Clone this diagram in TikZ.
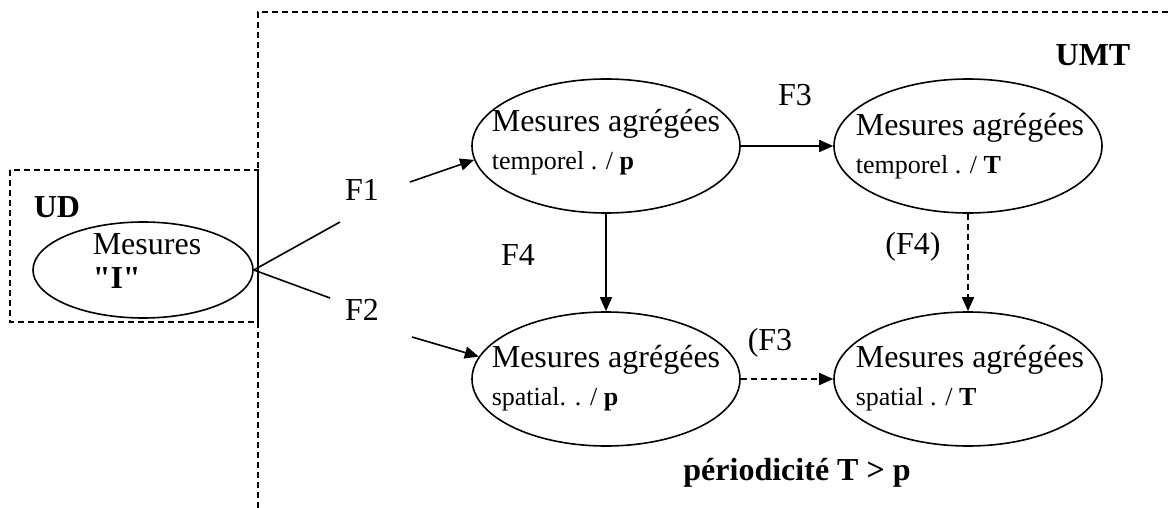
\documentclass[tikz,border=0pt]{standalone}
\usepackage{fontspec}
\setmainfont{Liberation Serif}
\usetikzlibrary{shapes.geometric,arrows.meta}

\tikzset{
  zone/.style={line width=0.8pt, dash pattern=on 3pt off 2pt},
  mesure/.style={draw, ellipse, line width=0.8pt, minimum width=134pt, minimum height=67pt, inner sep=0pt},
  txt/.style={font=\fontsize{16}{19}\selectfont, align=left, inner sep=0pt},
  fleche/.style={line width=0.8pt, -{Triangle[length=7pt,width=6pt]}},
  pointille/.style={fleche, dash pattern=on 3pt off 2pt},
}

\begin{document}
\begin{tikzpicture}[x=0.5pt,y=-0.5pt]
    \useasboundingbox (0,0) rectangle (1168,508);

    % Zones UD and UMT
    \draw[zone] (1168,12) -- (258,12) -- (258,508);
    \draw[zone] (10,170) rectangle (258,322);
    \node[txt, font=\fontsize{16}{19}\selectfont\bfseries] (umt) at (1093,55) {UMT};
    \node[txt, font=\fontsize{16}{19}\selectfont\bfseries] (udlab) at (57,207) {UD};

    % Ellipses
    \node[mesure, minimum width=110pt, minimum height=48pt] (ud) at (143,270) {};
    \node[txt] (ud-t) at (147,261) {Mesures\\[-2pt] \textbf{\textquotedbl I\textquotedbl}};

    \node[mesure] (ta) at (606,146) {};
    \node[txt] (ta-t) at (606,142) {Mesures agrégées\\ {\fontsize{13}{15}\selectfont temporel . / \textbf{p}}};

    \node[mesure] (tb) at (968,146) {};
    \node[txt] (tb-t) at (970,146) {Mesures agrégées\\ {\fontsize{13}{15}\selectfont temporel . / \textbf{T}}};

    \node[mesure] (sa) at (606,379) {};
    \node[txt] (sa-t) at (606,378) {Mesures agrégées\\ {\fontsize{13}{15}\selectfont spatial. . / \textbf{p}}};

    \node[mesure] (sb) at (968,379) {};
    \node[txt] (sb-t) at (970,378) {Mesures agrégées\\ {\fontsize{13}{15}\selectfont spatial . / \textbf{T}}};

    % Functions F1 and F2
    \coordinate (f1end) at (340,222);
    \coordinate (f2end) at (330,298);
    \coordinate (f1start) at (410,182);
    \coordinate (f2start) at (412,337);
    \draw[line width=0.8pt] (ud.east) -- (f1end);
    \draw[line width=0.8pt] (ud.east) -- (f2end);
    \draw[fleche] (f1start) -- (ta.186);
    \draw[fleche] (f2start) -- (sa.170);
    \node[txt] (f1) at (362,190) {F1};
    \node[txt] (f2) at (362,310) {F2};

    % Functions F3 and F4
    \draw[fleche] (ta.east) -- (tb.west);
    \draw[fleche] (ta.south) -- (sa.north);
    \draw[pointille] (tb.south) -- (sb.north);
    \draw[pointille] (sa.east) -- (sb.west);
    \node[txt] (f3) at (795,95) {F3};
    \node[txt] (f4) at (518,255) {F4};
    \node[txt] (f4b) at (913,247) {(F4)};
    \node[txt] (f3b) at (770,343) {(F3};

    \node[txt, font=\fontsize{16}{19}\selectfont\bfseries] (period) at (797,473) {périodicité T > p};
\end{tikzpicture}
\end{document}
